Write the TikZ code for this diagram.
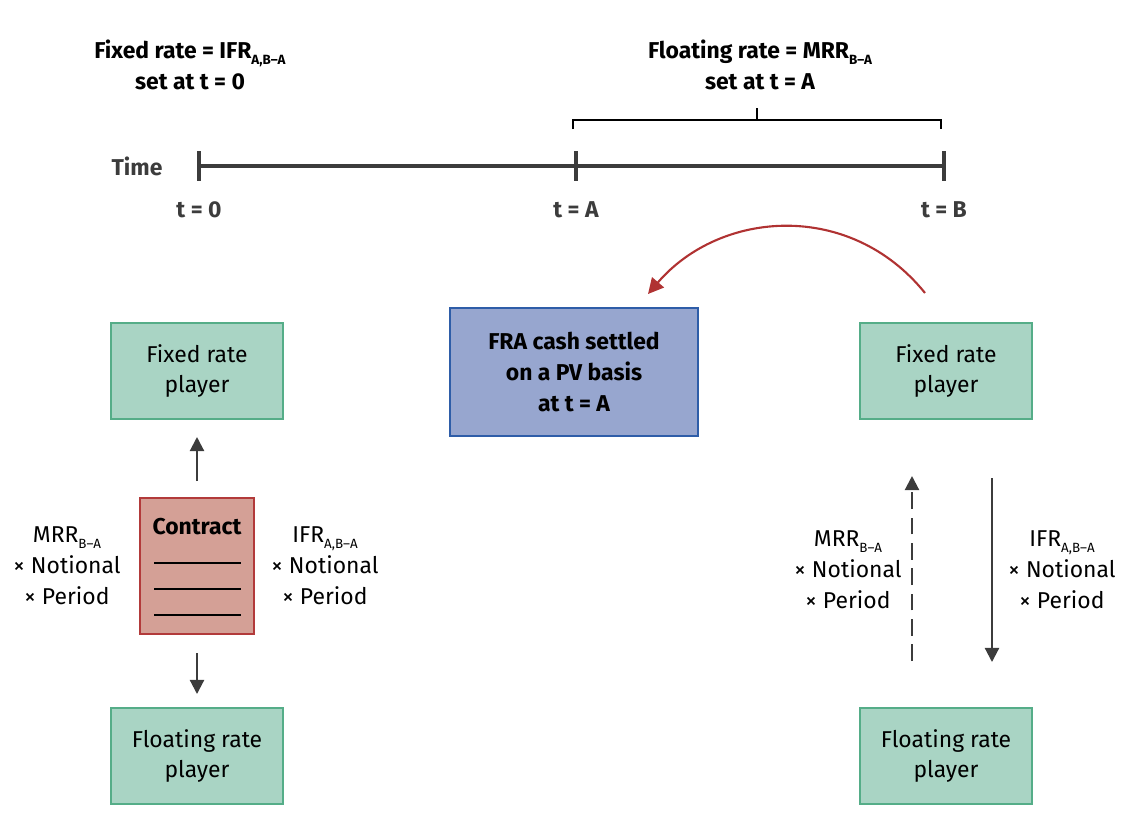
\documentclass[tikz,border=0pt]{standalone}
\usepackage{fontspec}
\setmainfont{Fira Sans}
\usetikzlibrary{arrows.meta}

\definecolor{playerfill}{HTML}{A9D4C4}
\definecolor{playerline}{HTML}{55AD88}
\definecolor{frafill}{HTML}{97A6CF}
\definecolor{fraline}{HTML}{2E5DA8}
\definecolor{contractfill}{HTML}{D4A096}
\definecolor{contractline}{HTML}{B23A3A}
\definecolor{settle}{HTML}{B03232}
\definecolor{axis}{HTML}{3C3C3C}

\newcommand{\dn}[1]{\raisebox{-0.5ex}{\fontsize{9.5}{9.5}\selectfont #1}}

\begin{document}
\begin{tikzpicture}[
  x=0.025cm, y=-0.025cm,
  every node/.style={font=\fontsize{16.3}{22}\selectfont},
  title/.style={font=\fontsize{16.3}{22}\selectfont\bfseries, align=center},
  tlabel/.style={font=\fontsize{16.3}{22}\selectfont\bfseries, text=axis},
  player/.style={draw=playerline, fill=playerfill, line width=1.4pt, align=center, minimum width=4.3cm, minimum height=2.42cm, inner sep=2pt},
  settlebox/.style={draw=fraline, fill=frafill, line width=1.4pt, align=center, minimum width=6.2cm, minimum height=3.22cm, font=\fontsize{16.3}{22}\selectfont\bfseries},
  contract/.style={draw=contractline, fill=contractfill, line width=1.4pt, minimum width=2.85cm, minimum height=3.4cm},
  flowtext/.style={align=center},
  arrow/.style={-{Triangle[length=10pt,width=10pt]}, line width=1.5pt, draw=axis}
]
\useasboundingbox (0,0) rectangle (1126,812);

% ==================== TOP: time line ====================
\node[title] (fixtitle) at (190,65) {Fixed rate = IFR\dn{A,B–A}\\set at t = 0};
\node[title] (floattitle) at (760,65) {Floating rate = MRR\dn{B–A}\\set at t = A};

\node[tlabel] (time) at (137,166) {Time};
\coordinate (t0) at (199,166);
\coordinate (tA) at (576,166);
\coordinate (tB) at (944,166);
\draw[axis, line width=3pt] (t0) -- (tB);
\draw[axis, line width=3pt] (199,151) -- (199,181);
\draw[axis, line width=3pt] (576,151) -- (576,181);
\draw[axis, line width=3pt] (944,151) -- (944,181);

\node[tlabel] (lab0) at (199,210) {t = 0};
\node[tlabel] (labA) at (576,210) {t = A};
\node[tlabel] (labB) at (944,210) {t = B};

% brace over A..B
\draw[black, line width=1.6pt] (573,129) -- (573,120) -- (941,120) -- (941,129);
\draw[black, line width=1.6pt] (757,120) -- (757,108);

% ==================== LEFT: contract at t = 0 ====================
\node[player] (lfix) at (197,371) {Fixed rate\\player};
\node[player] (lfloat) at (197,756) {Floating rate\\player};
\node[contract] (contract) at (197,566) {};
\node[font=\fontsize{16.3}{22}\selectfont\bfseries] (ctitle) at (197,527) {Contract};
\draw[black, line width=1pt] (154,563) -- (241,563);
\draw[black, line width=1pt] (154,589) -- (241,589);
\draw[black, line width=1pt] (154,615) -- (241,615);

\draw[arrow] (contract.north) ++(0,-16) coordinate (cup) -- (197,437);
\draw[arrow] (contract.south) ++(0,18) coordinate (cdown) -- (197,694);

\node[flowtext] (lmrr) at (67,566) {MRR\dn{B–A}\\× Notional\\× Period};
\node[flowtext] (lifr) at (325,566) {IFR\dn{A,B–A}\\× Notional\\× Period};

% ==================== MIDDLE: settlement ====================
\node[settlebox] (fra) at (574,372) {FRA cash settled\\on a PV basis\\at t = A};

% ==================== RIGHT: payments at t = B ====================
\node[player] (rfix) at (946,371) {Fixed rate\\player};
\node[player] (rfloat) at (946,756) {Floating rate\\player};

\draw[settle, line width=1.5pt, -{Triangle[length=11pt,width=11pt]}] (925,293) .. controls (850,200) and (720,210) .. (648,294);

\draw[arrow, dashed, dash pattern=on 12pt off 6pt] (912,661) -- (912,476);
\draw[arrow] (992,478) -- (992,662);

\node[flowtext] (rmrr) at (848,570) {MRR\dn{B–A}\\× Notional\\× Period};
\node[flowtext] (rifr) at (1062,570) {IFR\dn{A,B–A}\\× Notional\\× Period};

\end{tikzpicture}
\end{document}
